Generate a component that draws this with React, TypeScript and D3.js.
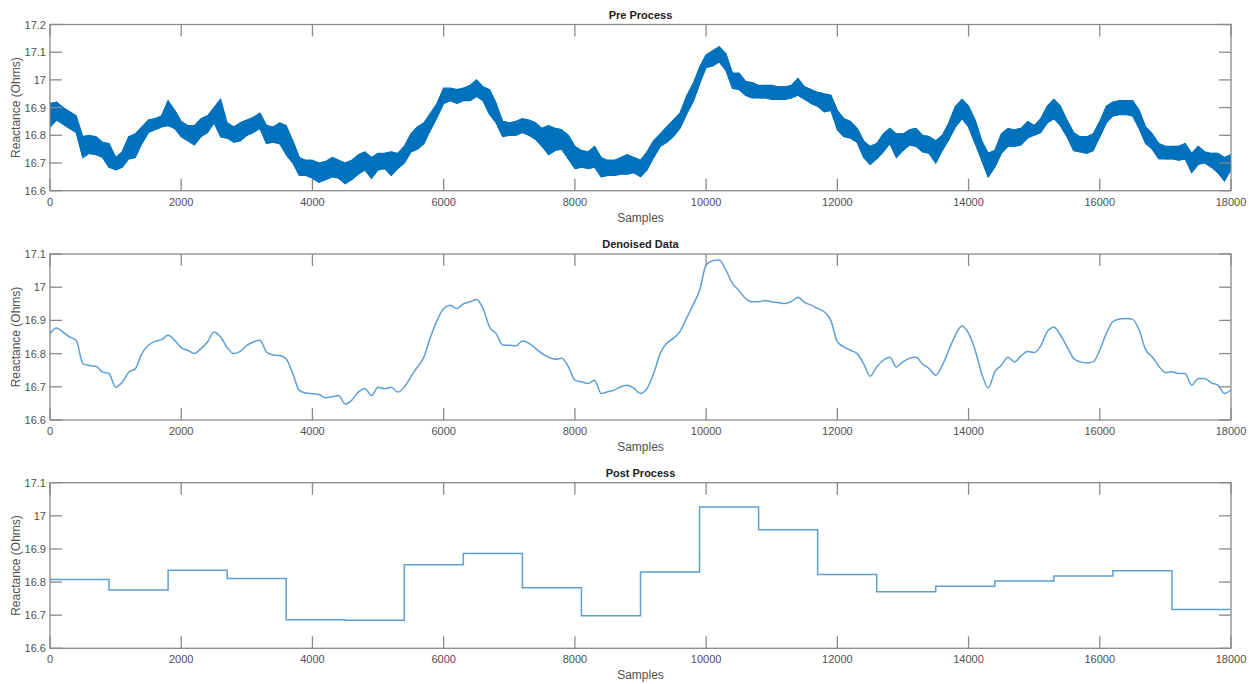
import React from "react";
import * as d3 from "d3";

// ---------- DATA ----------
// Sample positions (every 100 samples) for the pre-process envelope and the denoised trace
const samples: number[] = d3.range(0, 18001, 100);

// Pre Process: upper and lower edge of the noisy band, read every 100 samples
const preUpper: number[] = [
  16.915, 16.92, 16.9, 16.885, 16.87, 16.795, 16.8, 16.795, 16.775, 16.77,
  16.72, 16.74, 16.795, 16.805, 16.83, 16.855, 16.86, 16.87, 16.925, 16.89,
  16.85, 16.835, 16.835, 16.86, 16.87, 16.9, 16.93, 16.845, 16.83, 16.845,
  16.855, 16.865, 16.88, 16.835, 16.83, 16.845, 16.835, 16.78, 16.72, 16.71,
  16.71, 16.7, 16.705, 16.72, 16.71, 16.7, 16.71, 16.73, 16.74, 16.72,
  16.735, 16.735, 16.74, 16.735, 16.76, 16.805, 16.83, 16.845, 16.88, 16.915,
  16.97, 16.97, 16.965, 16.97, 16.98, 17.0, 16.975, 16.965, 16.915, 16.85,
  16.845, 16.85, 16.86, 16.855, 16.845, 16.825, 16.835, 16.825, 16.82, 16.8,
  16.76, 16.745, 16.74, 16.76, 16.72, 16.71, 16.71, 16.72, 16.73, 16.72,
  16.71, 16.74, 16.78, 16.805, 16.83, 16.855, 16.88, 16.94, 16.985, 17.045,
  17.09, 17.105, 17.12, 17.095, 17.025, 17.025, 16.995, 16.99, 16.98, 16.98,
  16.98, 16.975, 16.975, 16.98, 17.005, 16.975, 16.965, 16.955, 16.95, 16.945,
  16.89, 16.86, 16.85, 16.825, 16.78, 16.76, 16.77, 16.805, 16.825, 16.805,
  16.805, 16.82, 16.825, 16.8, 16.795, 16.78, 16.8, 16.845, 16.905, 16.93,
  16.905, 16.855, 16.78, 16.735, 16.745, 16.805, 16.825, 16.82, 16.825, 16.85,
  16.835, 16.86, 16.905, 16.93, 16.905, 16.855, 16.81, 16.795, 16.795, 16.805,
  16.85, 16.905, 16.92, 16.925, 16.925, 16.925, 16.89, 16.83, 16.805, 16.77,
  16.76, 16.76, 16.76, 16.77, 16.735, 16.76, 16.74, 16.735, 16.735, 16.72,
  16.73,
];
const preLower: number[] = [
  16.83, 16.855, 16.84, 16.825, 16.81, 16.72, 16.735, 16.73, 16.72, 16.685,
  16.675, 16.685, 16.715, 16.72, 16.77, 16.81, 16.82, 16.83, 16.835, 16.825,
  16.795, 16.78, 16.765, 16.795, 16.81, 16.845, 16.795, 16.79, 16.775, 16.78,
  16.8, 16.81, 16.825, 16.77, 16.775, 16.77, 16.73, 16.7, 16.655, 16.655,
  16.645, 16.63, 16.64, 16.65, 16.645, 16.625, 16.64, 16.66, 16.675, 16.645,
  16.675, 16.68, 16.655, 16.68, 16.7, 16.74, 16.75, 16.77, 16.82, 16.865,
  16.915, 16.925, 16.915, 16.925, 16.925, 16.94, 16.925, 16.875, 16.845, 16.795,
  16.8, 16.8, 16.81, 16.8, 16.785, 16.76, 16.73, 16.745, 16.75, 16.715,
  16.68, 16.685, 16.68, 16.685, 16.65, 16.655, 16.655, 16.66, 16.66, 16.665,
  16.65, 16.675, 16.72, 16.76, 16.775, 16.795, 16.825, 16.875, 16.92, 16.985,
  17.045, 17.05, 17.065, 17.035, 16.97, 16.965, 16.945, 16.935, 16.935, 16.935,
  16.93, 16.93, 16.93, 16.935, 16.945, 16.93, 16.915, 16.905, 16.885, 16.89,
  16.82, 16.795, 16.79, 16.775, 16.72, 16.695, 16.715, 16.74, 16.77, 16.72,
  16.745, 16.765, 16.76, 16.74, 16.735, 16.7, 16.745, 16.785, 16.83, 16.86,
  16.83, 16.77, 16.71, 16.65, 16.685, 16.735, 16.76, 16.76, 16.765, 16.79,
  16.8, 16.81, 16.845, 16.86, 16.835, 16.795, 16.745, 16.74, 16.735, 16.745,
  16.795, 16.845, 16.87, 16.875, 16.875, 16.87, 16.825, 16.77, 16.75, 16.715,
  16.715, 16.715, 16.71, 16.715, 16.665, 16.695, 16.7, 16.685, 16.665, 16.635,
  16.675,
];

// Denoised Data, read every 100 samples
const denoised: number[] = [
  16.86, 16.877, 16.865, 16.85, 16.84, 16.77, 16.764, 16.762, 16.745, 16.74,
  16.699, 16.714, 16.744, 16.754, 16.8, 16.825, 16.837, 16.842, 16.855, 16.84,
  16.818, 16.81, 16.8, 16.815, 16.835, 16.865, 16.85, 16.818, 16.8, 16.807,
  16.825, 16.835, 16.84, 16.805, 16.796, 16.794, 16.784, 16.74, 16.689, 16.681,
  16.679, 16.677, 16.667, 16.67, 16.674, 16.648, 16.66, 16.684, 16.694, 16.674,
  16.699, 16.694, 16.699, 16.684, 16.699, 16.73, 16.76, 16.79, 16.85, 16.9,
  16.936, 16.946, 16.936, 16.95, 16.956, 16.963, 16.936, 16.88, 16.86, 16.826,
  16.825, 16.823, 16.838, 16.831, 16.816, 16.8, 16.789, 16.783, 16.786, 16.761,
  16.72, 16.715, 16.71, 16.72, 16.68, 16.685, 16.69, 16.7, 16.705, 16.695,
  16.68, 16.695, 16.74, 16.8, 16.831, 16.846, 16.866, 16.906, 16.946, 16.99,
  17.067, 17.08, 17.082, 17.052, 17.012, 16.99, 16.966, 16.956, 16.956, 16.96,
  16.956, 16.954, 16.951, 16.957, 16.97, 16.954, 16.946, 16.936, 16.926, 16.9,
  16.836, 16.82, 16.81, 16.8, 16.77, 16.732, 16.76, 16.78, 16.789, 16.76,
  16.775, 16.786, 16.789, 16.768, 16.755, 16.735, 16.765, 16.811, 16.856, 16.883,
  16.861, 16.811, 16.74, 16.697, 16.745, 16.765, 16.789, 16.775, 16.793, 16.806,
  16.803, 16.823, 16.866, 16.879, 16.856, 16.821, 16.786, 16.775, 16.772, 16.775,
  16.811, 16.861, 16.896, 16.904, 16.906, 16.903, 16.871, 16.811, 16.79, 16.762,
  16.743, 16.745, 16.74, 16.74, 16.705, 16.725, 16.725, 16.712, 16.705, 16.68,
  16.69,
];

// Post Process: piecewise-constant blocks of 900 samples
const blockStarts: number[] = d3.range(0, 18000, 900);
const postLevels: number[] = [
  16.808, 16.776, 16.836, 16.811, 16.686, 16.685, 16.852, 16.886, 16.783, 16.698,
  16.83, 17.027, 16.958, 16.823, 16.771, 16.787, 16.803, 16.818, 16.834, 16.717,
];

const xTicks: number[] = [0, 2000, 4000, 6000, 8000, 10000, 12000, 14000, 16000, 18000];
const yTicksTop: number[] = [16.6, 16.7, 16.8, 16.9, 17, 17.1, 17.2];
const yTicksLower: number[] = [16.6, 16.7, 16.8, 16.9, 17, 17.1];
const titles: string[] = ["Pre Process", "Denoised Data", "Post Process"];

// ---------- LAYOUT ----------
const W = 1249;
const H = 684;
const L = 50;
const R = 1231;
const panels = [
  { top: 24.5, bottom: 190.7, domain: [16.6, 17.2], ticks: yTicksTop },
  { top: 254, bottom: 420, domain: [16.6, 17.1], ticks: yTicksLower },
  { top: 482.7, bottom: 648.3, domain: [16.6, 17.1], ticks: yTicksLower },
];

const FONT = "'Liberation Sans', Arial, Helvetica, sans-serif";
const AXIS = "#8a8a8a";
const TEXT = "#505050";
const TICK = 11;
const LIGHT = "#5c9fd6";

function fmt(v: number) {
  return d3.format("~g")(+v.toFixed(1));
}

function Panel({ idx }: { idx: number }) {
  const p = panels[idx];
  const x = d3.scaleLinear().domain([0, 18000]).range([L, R]);
  const y = d3.scaleLinear().domain(p.domain).range([p.bottom, p.top]);
  const cx = (L + R) / 2;

  let content: React.ReactNode = null;
  if (idx === 0) {
    const area = d3
      .area<number>()
      .x((_, i) => x(samples[i]))
      .y0((_, i) => y(preLower[i]))
      .y1((_, i) => y(preUpper[i]));
    const edge = d3.line<number>().x((_, i) => x(samples[i])).y((d) => y(d));
    // zig-zag trace visiting upper then lower edge at each read position
    const zz: [number, number][] = [];
    samples.forEach((s, i) => {
      if (i % 2 === 0) {
        zz.push([x(s), y(preUpper[i])]);
        zz.push([x(s), y(preLower[i])]);
      } else {
        zz.push([x(s), y(preLower[i])]);
        zz.push([x(s), y(preUpper[i])]);
      }
    });
    content = (
      <g>
        <path d={area(preUpper) || ""} fill="#0072BD" stroke="none" />
        <path d={edge(preUpper) || ""} fill="none" stroke="#0072BD" strokeWidth={1.2} />
        <path d={edge(preLower) || ""} fill="none" stroke="#0072BD" strokeWidth={1.2} />
        <path d={d3.line()(zz) || ""} fill="none" stroke="#0072BD" strokeWidth={1} />
      </g>
    );
  } else if (idx === 1) {
    const line = d3
      .line<number>()
      .x((_, i) => x(samples[i]))
      .y((d) => y(d))
      .curve(d3.curveMonotoneX);
    content = <path d={line(denoised) || ""} fill="none" stroke={LIGHT} strokeWidth={1.5} />;
  } else {
    const pts: [number, number][] = blockStarts.map((s, i) => [s, postLevels[i]]);
    pts.push([18000, postLevels[postLevels.length - 1]]);
    const line = d3
      .line<[number, number]>()
      .x((d) => x(d[0]))
      .y((d) => y(d[1]))
      .curve(d3.curveStepAfter);
    content = <path d={line(pts) || ""} fill="none" stroke={LIGHT} strokeWidth={1.5} />;
  }

  const tl = 12;
  return (
    <g>
      <defs>
        <clipPath id={`clip${idx}`}>
          <rect x={L} y={p.top} width={R - L} height={p.bottom - p.top} />
        </clipPath>
      </defs>
      <g clipPath={`url(#clip${idx})`}>{content}</g>
      <rect x={L} y={p.top} width={R - L} height={p.bottom - p.top} fill="none" stroke={AXIS} strokeWidth={1.3} />
      {xTicks.map((t) => (
        <g key={`x${t}`}>
          <line x1={x(t)} x2={x(t)} y1={p.bottom} y2={p.bottom - tl} stroke={AXIS} strokeWidth={1.3} />
          <line x1={x(t)} x2={x(t)} y1={p.top} y2={p.top + tl} stroke={AXIS} strokeWidth={1.3} />
          <text x={x(t)} y={p.bottom + 15} textAnchor="middle" fontSize={TICK} fill={TEXT} fontFamily={FONT}>
            {t}
          </text>
        </g>
      ))}
      {p.ticks.map((t) => (
        <g key={`y${t}`}>
          <line x1={L} x2={L + tl} y1={y(t)} y2={y(t)} stroke={AXIS} strokeWidth={1.3} />
          <line x1={R} x2={R - tl} y1={y(t)} y2={y(t)} stroke={AXIS} strokeWidth={1.3} />
          <text x={L - 4} y={y(t) + 4} textAnchor="end" fontSize={TICK} fill={TEXT} fontFamily={FONT}>
            {fmt(t)}
          </text>
        </g>
      ))}
      <text x={cx} y={p.top - 6} textAnchor="middle" fontSize={11} fontWeight="bold" fill="#222" fontFamily={FONT}>
        {titles[idx]}
      </text>
      <text x={cx} y={p.bottom + 31} textAnchor="middle" fontSize={12} fill={TEXT} fontFamily={FONT}>
        Samples
      </text>
      <text
        transform={`translate(${16},${(p.top + p.bottom) / 2}) rotate(-90)`}
        textAnchor="middle"
        fontSize={12}
        fill={TEXT}
        fontFamily={FONT}
        dy="0.35em"
      >
        Reactance (Ohms)
      </text>
    </g>
  );
}

export default function App() {
  return (
    <svg
      width={W}
      height={H}
      viewBox={`0 0 ${W} ${H}`}
      style={{ position: "absolute", left: 0, top: 0, background: "#fff" }}
    >
      <rect x={0} y={0} width={W} height={H} fill="#fff" />
      {[0, 1, 2].map((i) => (
        <Panel key={i} idx={i} />
      ))}
    </svg>
  );
}
